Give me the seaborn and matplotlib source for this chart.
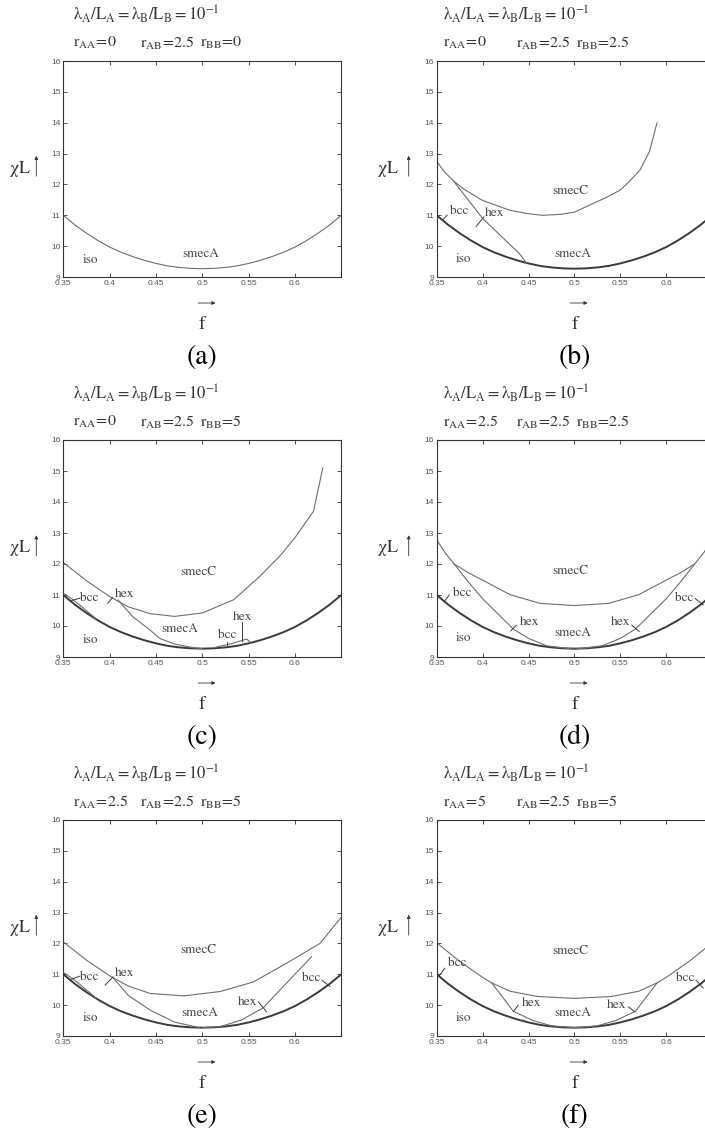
import seaborn as sns
import matplotlib.pyplot as plt
from matplotlib.patches import FancyArrowPatch

sns.set_style('ticks')
plt.rcParams['mathtext.fontset'] = 'stix'
plt.rcParams['font.family'] = ['STIXGeneral', 'DejaVu Serif']

W, H = 705, 1137

# iso boundary (same curve in every panel)
f_iso = [0.35, 0.3625, 0.375, 0.3875, 0.40, 0.4125, 0.425, 0.4375, 0.45, 0.4625, 0.475, 0.4875, 0.50,
         0.5125, 0.525, 0.5375, 0.55, 0.5625, 0.575, 0.5875, 0.60, 0.6125, 0.625, 0.6375, 0.65]
chi_iso = [11.0, 10.69, 10.42, 10.18, 9.97, 9.8, 9.66, 9.54, 9.44, 9.36, 9.31, 9.28, 9.27,
           9.28, 9.31, 9.36, 9.44, 9.54, 9.66, 9.8, 9.97, 10.18, 10.42, 10.69, 11.0]

# thin bcc branch just above iso near f=0.35 in (c) and (e)
f_bcc_edge = [0.35, 0.36, 0.37, 0.385]
chi_bcc_edge = [11.06, 10.86, 10.62, 10.24]

# (b)
f_b_smecC = [0.35, 0.358, 0.368, 0.38, 0.40, 0.43, 0.45, 0.465, 0.485, 0.50, 0.52, 0.535, 0.55, 0.56,
             0.5715, 0.5817, 0.59]
chi_b_smecC = [12.75, 12.42, 12.12, 11.84, 11.48, 11.16, 11.05, 11.0, 11.03, 11.1, 11.38, 11.58, 11.82,
               12.1, 12.47, 13.06, 14.0]
f_b_hex = [0.368, 0.40, 0.44, 0.448]
chi_b_hex = [12.12, 10.9, 9.76, 9.45]

# (c)
f_c_smecC = [0.35, 0.375, 0.40, 0.42, 0.4436, 0.47, 0.50, 0.534, 0.562, 0.585, 0.60, 0.62, 0.63]
chi_c_smecC = [12.05, 11.46, 10.95, 10.62, 10.4, 10.31, 10.42, 10.85, 11.6, 12.3, 12.85, 13.7, 15.1]
f_c_hex = [0.409, 0.425, 0.4436, 0.454, 0.47, 0.49, 0.50]
chi_c_hex = [10.84, 10.3, 9.87, 9.6, 9.42, 9.3, 9.27]
f_c_hex2 = [0.515, 0.53, 0.548, 0.552]
chi_c_hex2 = [9.32, 9.42, 9.58, 9.47]

# (d)
f_d_smecC = [0.35, 0.359, 0.369, 0.385, 0.40, 0.43, 0.4626, 0.50, 0.5374, 0.57, 0.60, 0.615, 0.631, 0.641, 0.65]
chi_d_smecC = [12.78, 12.37, 12.0, 11.71, 11.48, 11.01, 10.73, 10.66, 10.73, 11.01, 11.48, 11.71, 12.0, 12.37, 12.78]
f_d_hex_l = [0.369, 0.385, 0.40, 0.4336, 0.45, 0.47, 0.50]
chi_d_hex_l = [12.0, 11.4, 10.88, 9.9, 9.6, 9.36, 9.25]
f_d_hex_r = [0.50, 0.53, 0.55, 0.5664, 0.60, 0.615, 0.631]
chi_d_hex_r = [9.25, 9.36, 9.6, 9.9, 10.88, 11.4, 12.0]

# (e)
f_e_smecC = [0.35, 0.375, 0.40, 0.42, 0.4436, 0.48, 0.519, 0.555, 0.591, 0.627, 0.65]
chi_e_smecC = [12.05, 11.46, 10.95, 10.62, 10.38, 10.3, 10.44, 10.75, 11.36, 12.0, 12.85]
f_e_hex_l = [0.404, 0.42, 0.4436, 0.47, 0.497]
chi_e_hex_l = [10.88, 10.32, 9.84, 9.45, 9.27]
f_e_hex_r = [0.50, 0.519, 0.5425, 0.566, 0.591, 0.618]
chi_e_hex_r = [9.27, 9.30, 9.52, 9.92, 10.72, 11.57]

# (f)
f_f_smecC = [0.35, 0.375, 0.40, 0.41, 0.43, 0.46, 0.50, 0.54, 0.57, 0.59, 0.60, 0.625, 0.65]
chi_f_smecC = [12.02, 11.42, 10.9, 10.72, 10.45, 10.28, 10.22, 10.28, 10.45, 10.72, 10.9, 11.42, 12.02]
f_f_hex_l = [0.41, 0.4335, 0.455, 0.475, 0.50]
chi_f_hex_l = [10.72, 9.8, 9.5, 9.33, 9.27]
f_f_hex_r = [0.50, 0.525, 0.545, 0.5665, 0.59]
chi_f_hex_r = [9.27, 9.33, 9.5, 9.8, 10.72]

panel_names = ['(a)', '(b)', '(c)', '(d)', '(e)', '(f)']
r_AA = ['0', '0', '0', '2.5', '2.5', '5']
r_AB = ['2.5', '2.5', '2.5', '2.5', '2.5', '2.5']
r_BB = ['0', '2.5', '5', '2.5', '5', '5']

x_ticks = [0.35, 0.4, 0.45, 0.5, 0.55, 0.6]
x_ticklabels = ['0.35', '0.4', '0.45', '0.5', '0.55', '0.6']
y_ticks = [9, 10, 11, 12, 13, 14, 15, 16]

# region labels: (text, f, chi, ha)
labels = [
    [('smecA', 0.498, 9.73, 'center'), ('iso', 0.3795, 9.56, 'center')],
    [('smecC', 0.496, 11.77, 'center'), ('smecA', 0.498, 9.75, 'center'), ('iso', 0.379, 9.57, 'center'),
     ('bcc', 0.3645, 11.12, 'left'), ('hex', 0.4026, 11.06, 'left')],
    [('smecC', 0.4957, 11.75, 'center'), ('smecA', 0.476, 9.89, 'center'), ('iso', 0.3795, 9.56, 'center'),
     ('bcc', 0.368, 10.9, 'left'), ('hex', 0.4058, 11.03, 'left'),
     ('bcc', 0.5268, 9.71, 'center'), ('hex', 0.5436, 10.3, 'center')],
    [('smecC', 0.496, 11.77, 'center'), ('smecA', 0.4985, 9.76, 'center'), ('iso', 0.379, 9.6, 'center'),
     ('bcc', 0.368, 11.07, 'left'), ('bcc', 0.6295, 10.89, 'right'),
     ('hex', 0.4407, 10.14, 'left'), ('hex', 0.5607, 10.14, 'right')],
    [('smecC', 0.4957, 11.79, 'center'), ('smecA', 0.4975, 9.74, 'center'), ('iso', 0.3795, 9.57, 'center'),
     ('bcc', 0.368, 10.92, 'left'), ('hex', 0.406, 11.04, 'left'),
     ('hex', 0.5593, 10.11, 'right'), ('bcc', 0.618, 10.88, 'center')],
    [('smecC', 0.496, 11.75, 'center'), ('smecA', 0.4985, 9.73, 'center'), ('iso', 0.379, 9.57, 'center'),
     ('bcc', 0.3627, 11.35, 'left'), ('hex', 0.4426, 10.06, 'left'),
     ('hex', 0.5569, 10.0, 'right'), ('bcc', 0.6205, 10.88, 'center')],
]

# little leader marks next to the labels: ([f0, f1], [chi0, chi1])
leaders = [
    [],
    [([0.3565, 0.3616], [10.85, 11.01]), ([0.3928, 0.4015], [10.63, 10.95])],
    [([0.359, 0.368], [10.82, 10.9]), ([0.3979, 0.4033], [10.73, 10.92]),
     ([0.5266, 0.5266], [9.39, 9.49]), ([0.5432, 0.5432], [9.53, 10.14])],
    [([0.358, 0.3637], [10.78, 11.0]), ([0.6314, 0.6404], [10.89, 10.68]),
     ([0.4306, 0.4371], [9.84, 10.03]), ([0.5624, 0.5707], [10.03, 9.82])],
    [([0.3572, 0.368], [10.82, 10.94]), ([0.395, 0.404], [10.65, 10.92]),
     ([0.5605, 0.5695], [10.11, 9.78]), ([0.629, 0.638], [10.81, 10.6])],
    [([0.3525, 0.359], [10.95, 11.2]), ([0.4335, 0.4389], [9.79, 10.0]),
     ([0.5588, 0.5661], [9.95, 9.78]), ([0.6325, 0.6405], [10.81, 10.55])],
]

thin_lines = [
    [],
    [(f_b_smecC, chi_b_smecC), (f_b_hex, chi_b_hex)],
    [(f_c_smecC, chi_c_smecC), (f_c_hex, chi_c_hex), (f_c_hex2, chi_c_hex2), (f_bcc_edge, chi_bcc_edge)],
    [(f_d_smecC, chi_d_smecC), (f_d_hex_l, chi_d_hex_l), (f_d_hex_r, chi_d_hex_r)],
    [(f_e_smecC, chi_e_smecC), (f_e_hex_l, chi_e_hex_l), (f_e_hex_r, chi_e_hex_r), (f_bcc_edge, chi_bcc_edge)],
    [(f_f_smecC, chi_f_smecC), (f_f_hex_l, chi_f_hex_l), (f_f_hex_r, chi_f_hex_r)],
]

# layout in pixels
col_left = [63.3, 436.7]
col_width = [278.0, 275.4]
row_top = [61, 440, 820]
row_bottom = [277, 657, 1036]
r_offsets = [[10, 77, 137], [6, 79, 139]]

fig = plt.figure(figsize=(W / 100, H / 100), dpi=100)
txt_col = '#333333'
line_col = '#6e6e6e'

for i in range(6):
    row, col = i // 2, i % 2
    L, Wd = col_left[col], col_width[col]
    T, B = row_top[row], row_bottom[row]
    ax = fig.add_axes([L / W, 1 - B / H, Wd / W, (B - T) / H])

    sns.lineplot(x=f_iso, y=chi_iso, ax=ax, sort=False, estimator=None,
                 color=line_col if i == 0 else '#3a3a3a', linewidth=0.8 if i == 0 else 1.4)
    for fx, cy in thin_lines[i]:
        sns.lineplot(x=fx, y=cy, ax=ax, sort=False, estimator=None, color=line_col, linewidth=0.8)
    for fx, cy in leaders[i]:
        ax.plot(fx, cy, color='#3a3a3a', linewidth=0.7)
    for s, fx, cy, ha in labels[i]:
        ax.text(fx, cy, s, ha=ha, va='center', fontsize=9.5, color='#444444')

    ax.set_xlim(0.35, 0.65)
    ax.set_ylim(9, 16)
    ax.set_xticks(x_ticks)
    ax.set_xticklabels(x_ticklabels, fontfamily='Liberation Sans')
    ax.set_yticks(y_ticks)
    ax.set_yticklabels([str(v) for v in y_ticks], fontfamily='Liberation Sans')
    ax.set_xlabel('')
    ax.set_ylabel('')
    ax.tick_params(direction='in', top=True, right=True, length=3, width=0.6,
                   labelsize=6, labelcolor='#555555', color='#333333', pad=2)
    for sp in ax.spines.values():
        sp.set_color('#333333')
        sp.set_linewidth(0.8)

    # header lines
    fig.text((L + r_offsets[col][0]) / W, 1 - (T - 47) / H,
             r'$\mathrm{λ_{A}/L_{A}}=\mathrm{λ_{B}/L_{B}}=10^{-1}$',
             fontsize=12, color=txt_col, va='center', ha='left')
    for k, (nm, val) in enumerate([('AA', r_AA[i]), ('AB', r_AB[i]), ('BB', r_BB[i])]):
        fig.text((L + r_offsets[col][k]) / W, 1 - (T - 18) / H,
                 r'$\mathrm{r}_{\mathrm{%s}}\!=\!%s$' % (nm, val),
                 fontsize=11.5, color=txt_col, va='center', ha='left')

    # y label with arrow
    ymid = (T + B) / 2
    chi_x = L - (43 if col == 0 else 49)
    arr_x = L - (27 if col == 0 else 28)
    fig.text(chi_x / W, 1 - ymid / H, r'$\mathrm{χL}$', fontsize=13, color=txt_col,
             ha='center', va='center')
    fig.add_artist(FancyArrowPatch(
        (arr_x / W, 1 - (ymid + 10) / H), (arr_x / W, 1 - (ymid - 16) / H),
        transform=fig.transFigure, arrowstyle='-|>', mutation_scale=5, color=txt_col, lw=0.6))

    # x label with arrow and panel letter
    cx = L + Wd * (0.5 - 0.35) / 0.3
    fig.add_artist(FancyArrowPatch(
        ((cx - 7) / W, 1 - (B + 26) / H), ((cx + 16) / W, 1 - (B + 26) / H),
        transform=fig.transFigure, arrowstyle='-|>', mutation_scale=5, color=txt_col, lw=0.6))
    fig.text(cx / W, 1 - (B + 47) / H, 'f', fontsize=14, color=txt_col, ha='center', va='center')
    fig.text(cx / W, 1 - (B + 80) / H, panel_names[i], fontsize=20, color='black',
             ha='center', va='center')

fig.savefig('out.png', dpi=100)
